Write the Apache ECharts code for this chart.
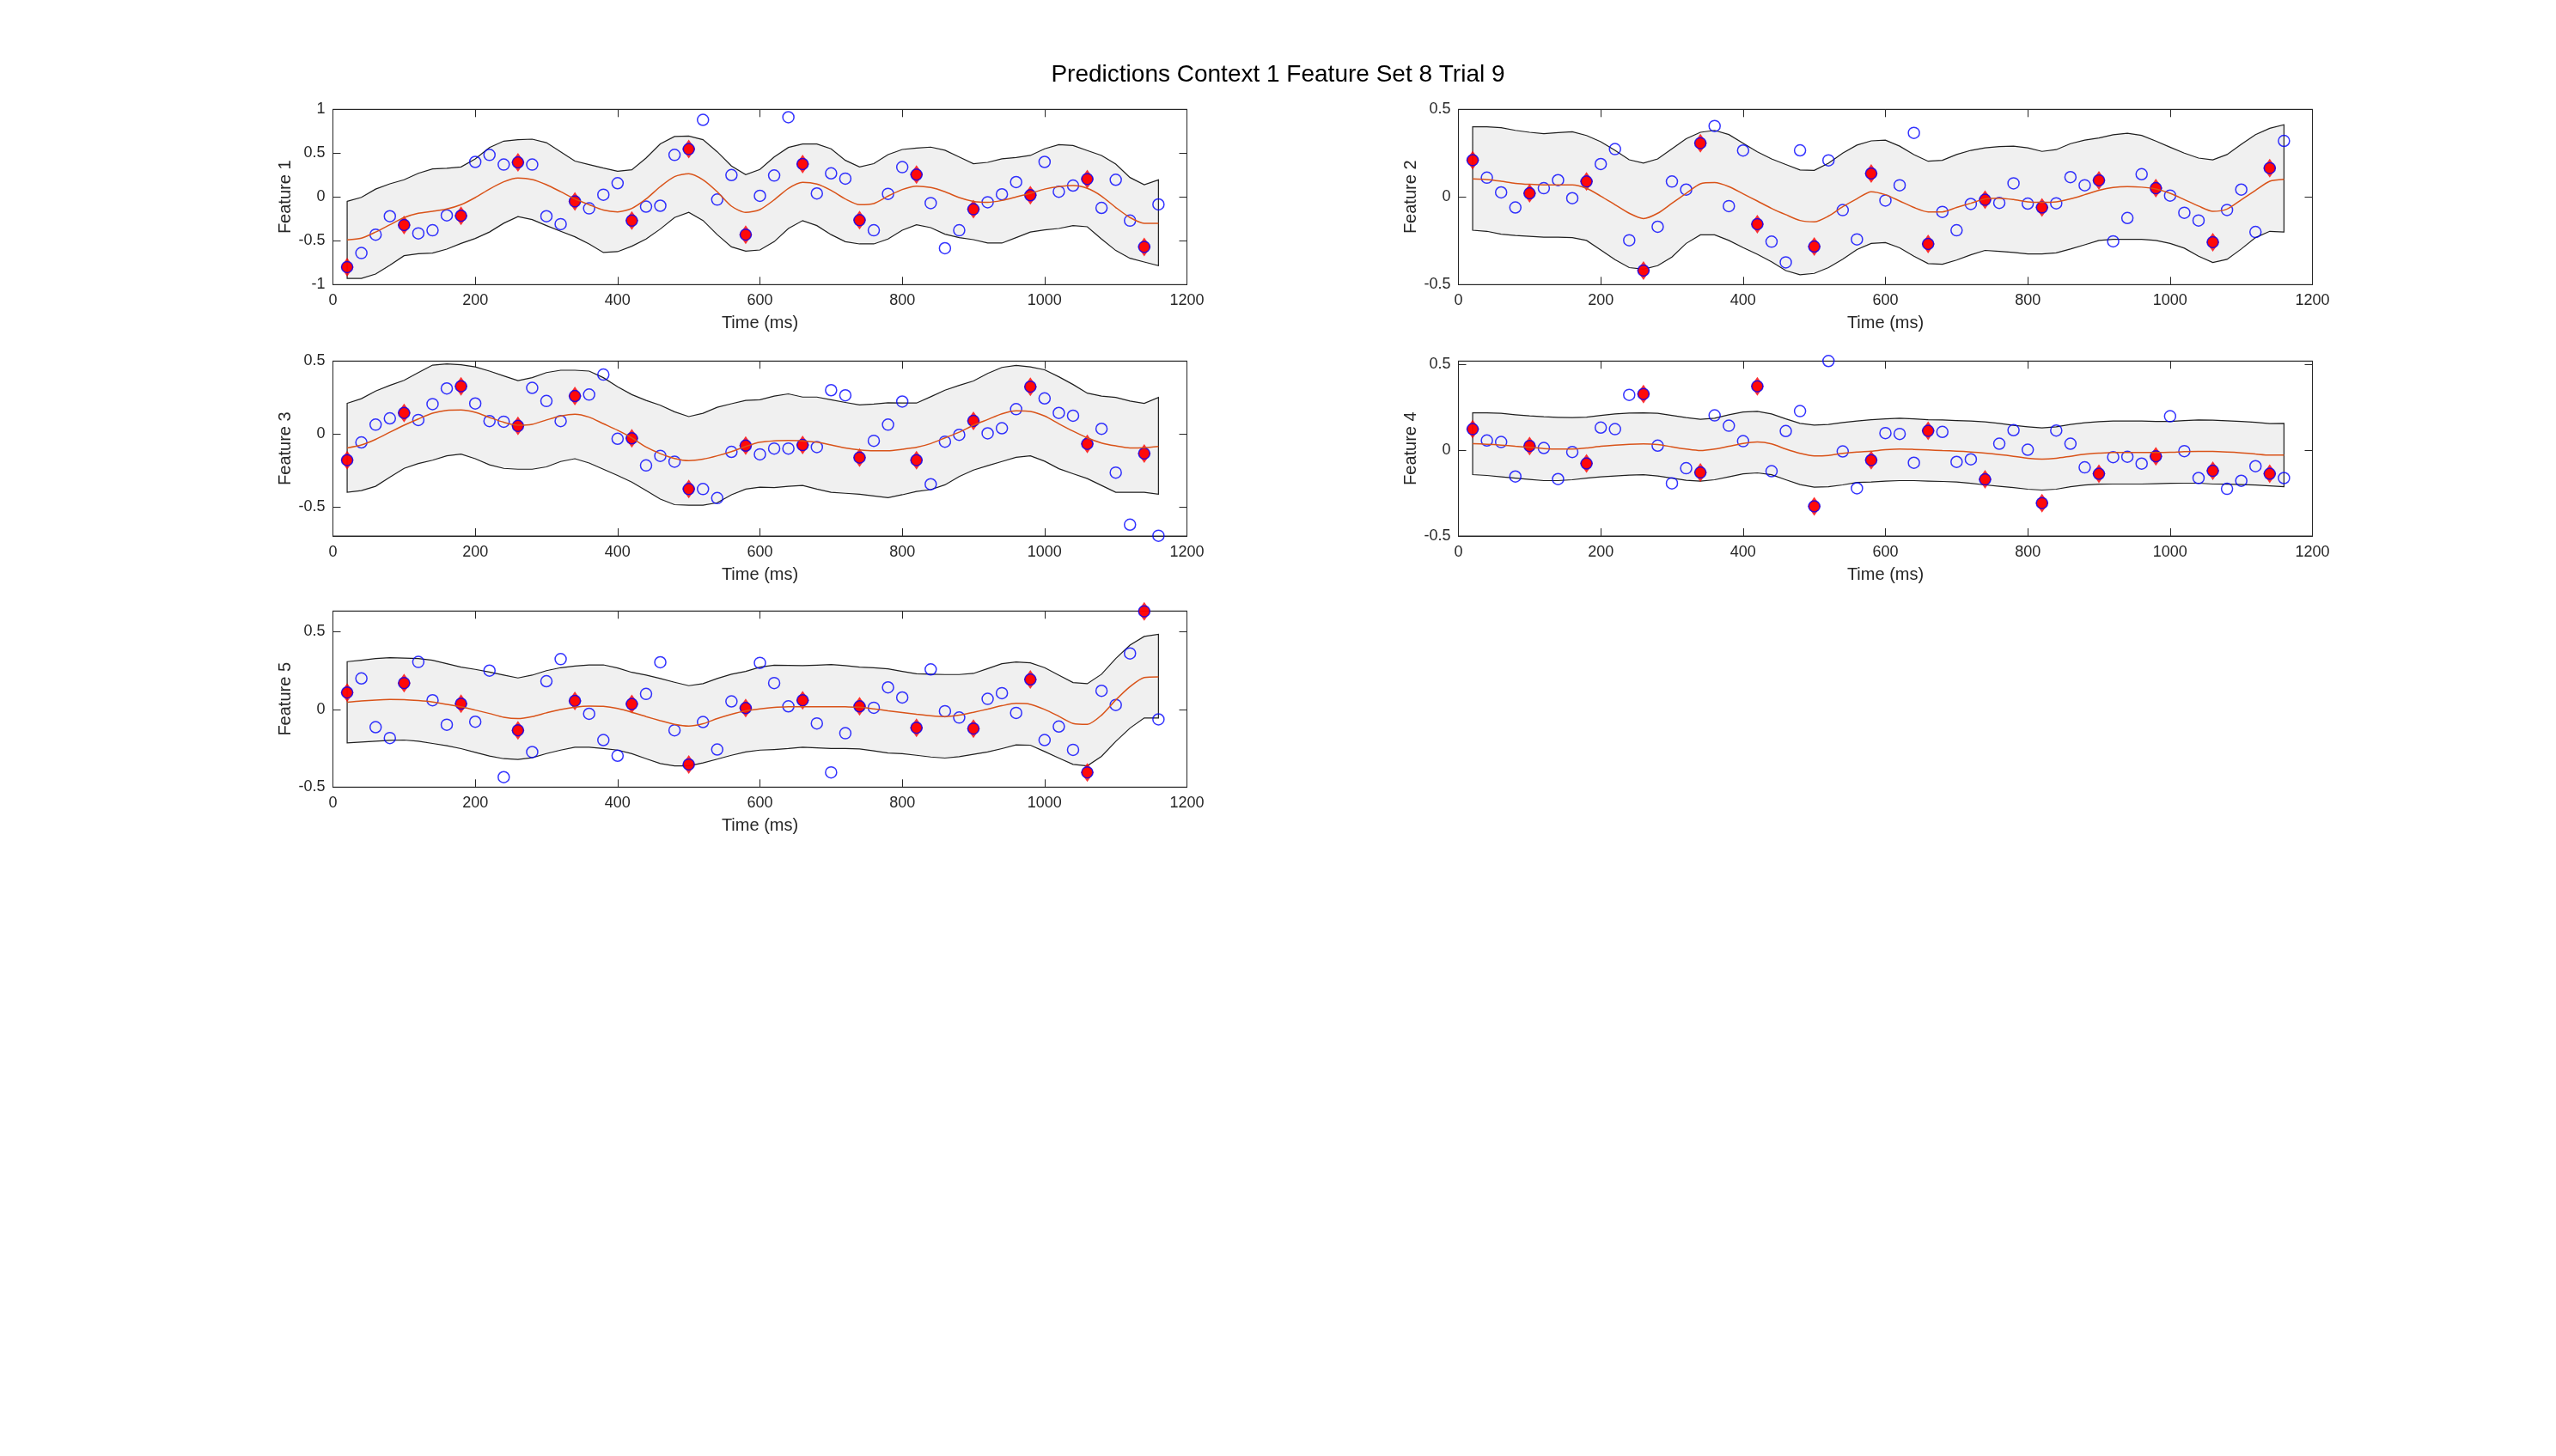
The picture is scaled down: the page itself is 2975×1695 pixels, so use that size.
<!DOCTYPE html>
<html>
<head>
<meta charset="utf-8">
<title>Predictions Context 1 Feature Set 8 Trial 9</title>
<script src="https://cdn.jsdelivr.net/npm/echarts@6.0.0/dist/echarts.min.js"></script>
<style>
  html, body { margin: 0; padding: 0; background: #fff; }
  #main { width: 2975px; height: 1695px; }
</style>
</head>
<body>
<div id="main"></div>
<script>
// sample times (ms) for observations and the prediction band
var timeMs = [20,40,60,80,100,120,140,160,180,200,220,240,260,280,300,320,340,360,380,400,
  420,440,460,480,500,520,540,560,580,600,620,640,660,680,700,720,740,760,780,800,
  820,840,860,880,900,920,940,960,980,1000,1020,1040,1060,1080,1100,1120,1140,1160];
// times of the highlighted (diamond) points
var targetMs = [20,100,180,260,340,420,500,580,660,740,820,900,980,1060,1140];

// ---- Feature 1 ----
var f1Obs = [-0.80,-0.64,-0.43,-0.22,-0.32,-0.415,-0.38,-0.21,-0.215,0.40,0.48,0.37,0.395,0.37,-0.22,-0.31,-0.05,-0.13,0.026,0.157,-0.27,-0.11,-0.10,0.48,0.546,0.88,-0.03,0.25,-0.43,
  0.013,0.245,0.91,0.376,0.04,0.27,0.21,-0.265,-0.38,0.036,0.34,0.255,-0.07,-0.585,-0.38,-0.14,-0.06,0.03,0.17,0.02,0.40,0.06,0.13,0.205,-0.125,0.196,-0.27,-0.57,-0.085];
var f1Target = [-0.80,-0.32,-0.215,0.395,-0.05,-0.27,0.546,-0.43,0.376,-0.265,0.255,-0.14,0.02,0.205,-0.57];
var f1Upper = [-0.05,-0.005,0.09,0.15,0.196,0.27,0.32,0.327,0.343,0.435,0.565,0.637,0.654,0.66,0.62,0.516,0.41,0.37,0.33,0.294,0.31,0.444,0.605,0.69,0.696,0.654,0.516,0.353,0.255,
  0.314,0.457,0.565,0.605,0.605,0.55,0.418,0.343,0.38,0.484,0.542,0.559,0.569,0.533,0.457,0.38,0.395,0.435,0.45,0.474,0.55,0.598,0.588,0.53,0.474,0.376,0.222,0.14,0.196];
var f1Lower = [-0.93,-0.93,-0.88,-0.78,-0.67,-0.647,-0.64,-0.595,-0.53,-0.474,-0.40,-0.30,-0.225,-0.258,-0.327,-0.392,-0.454,-0.536,-0.634,-0.624,-0.562,-0.48,-0.366,-0.235,-0.176,-0.268,-0.43,-0.57,-0.618,
  -0.605,-0.51,-0.36,-0.27,-0.327,-0.43,-0.51,-0.536,-0.536,-0.48,-0.38,-0.317,-0.35,-0.425,-0.464,-0.487,-0.526,-0.526,-0.464,-0.40,-0.376,-0.36,-0.327,-0.34,-0.48,-0.611,-0.70,-0.742,-0.784];
var f1Mean = [-0.49,-0.47,-0.40,-0.317,-0.235,-0.186,-0.163,-0.137,-0.088,-0.007,0.09,0.173,0.216,0.2,0.14,0.06,-0.023,-0.088,-0.15,-0.17,-0.13,-0.023,0.118,0.232,0.265,0.196,0.06,-0.105,-0.176,
  -0.144,-0.033,0.098,0.167,0.147,0.075,-0.023,-0.088,-0.075,0.01,0.085,0.124,0.108,0.06,-0.007,-0.05,-0.06,-0.04,0,0.042,0.09,0.118,0.13,0.098,0.01,-0.12,-0.235,-0.30,-0.30];

// ---- Feature 2 ----
var f2Obs = [0.21,0.11,0.026,-0.06,0.021,0.05,0.096,-0.007,0.088,0.188,0.273,-0.247,-0.42,-0.17,0.088,0.042,0.307,0.405,-0.052,0.265,-0.155,-0.255,-0.373,0.266,-0.283,0.209,-0.075,-0.242,0.134,
  -0.02,0.067,0.366,-0.268,-0.085,-0.19,-0.04,-0.016,-0.034,0.078,-0.038,-0.06,-0.036,0.113,0.067,0.095,-0.253,-0.12,0.13,0.05,0.008,-0.09,-0.134,-0.258,-0.074,0.042,-0.2,0.165,0.32];
var f2Target = [0.21,0.021,0.088,-0.42,0.307,-0.155,-0.283,0.134,-0.268,-0.016,-0.06,0.095,0.05,-0.258,0.165];
var f2Upper = [0.40,0.40,0.395,0.38,0.369,0.361,0.367,0.372,0.351,0.315,0.266,0.212,0.193,0.217,0.275,0.332,0.369,0.38,0.356,0.307,0.258,0.217,0.185,0.154,0.152,0.193,0.25,0.296,0.32,
  0.324,0.29,0.242,0.204,0.209,0.242,0.266,0.28,0.288,0.29,0.28,0.26,0.27,0.304,0.324,0.337,0.355,0.364,0.351,0.319,0.284,0.25,0.222,0.212,0.242,0.30,0.356,0.392,0.412];
var f2Lower = [-0.19,-0.196,-0.212,-0.22,-0.225,-0.23,-0.23,-0.232,-0.248,-0.302,-0.358,-0.403,-0.412,-0.392,-0.343,-0.265,-0.216,-0.216,-0.248,-0.289,-0.327,-0.37,-0.42,-0.444,-0.436,-0.403,-0.355,-0.30,-0.265,
  -0.26,-0.29,-0.338,-0.38,-0.384,-0.36,-0.33,-0.305,-0.31,-0.317,-0.325,-0.325,-0.319,-0.297,-0.273,-0.248,-0.242,-0.242,-0.242,-0.248,-0.265,-0.292,-0.338,-0.374,-0.356,-0.297,-0.232,-0.196,-0.2];
var f2Mean = [0.103,0.1,0.09,0.078,0.072,0.069,0.069,0.069,0.049,0.005,-0.044,-0.093,-0.123,-0.093,-0.036,0.021,0.075,0.082,0.059,0.018,-0.023,-0.065,-0.101,-0.134,-0.142,-0.109,-0.056,-0.01,0.03,
  0.013,-0.023,-0.06,-0.085,-0.085,-0.06,-0.036,-0.011,-0.007,-0.015,-0.028,-0.031,-0.028,-0.011,0.013,0.038,0.054,0.059,0.056,0.046,0.021,-0.015,-0.052,-0.082,-0.069,-0.016,0.038,0.09,0.101];

// ---- Feature 3 ----
var f3Obs = [-0.18,-0.058,0.064,0.107,0.144,0.096,0.205,0.312,0.327,0.209,0.088,0.084,0.055,0.316,0.226,0.088,0.26,0.27,0.407,-0.033,-0.03,-0.216,-0.15,-0.19,-0.378,-0.378,-0.44,-0.123,-0.08,
  -0.14,-0.10,-0.10,-0.076,-0.09,0.30,0.265,-0.162,-0.047,0.064,0.222,-0.18,-0.345,-0.053,-0.006,0.09,0.004,0.039,0.17,0.324,0.244,0.144,0.125,-0.068,0.035,-0.265,-0.622,-0.134,-0.698];
var f3Target = [-0.18,0.144,0.327,0.055,0.26,-0.03,-0.378,-0.08,-0.076,-0.162,-0.18,0.09,0.324,-0.068,-0.134];
var f3Upper = [0.21,0.242,0.294,0.333,0.368,0.421,0.472,0.48,0.474,0.46,0.431,0.398,0.366,0.386,0.421,0.437,0.437,0.431,0.386,0.324,0.27,0.23,0.197,0.152,0.119,0.142,0.183,0.207,0.23,
  0.234,0.259,0.275,0.253,0.253,0.234,0.216,0.199,0.205,0.214,0.212,0.212,0.255,0.30,0.333,0.363,0.415,0.456,0.47,0.46,0.44,0.392,0.339,0.28,0.259,0.251,0.226,0.21,0.25];
var f3Lower = [-0.40,-0.388,-0.359,-0.296,-0.236,-0.203,-0.18,-0.15,-0.138,-0.17,-0.212,-0.236,-0.242,-0.242,-0.226,-0.189,-0.17,-0.199,-0.242,-0.285,-0.33,-0.388,-0.447,-0.485,-0.489,-0.489,-0.472,-0.417,-0.378,
  -0.365,-0.368,-0.359,-0.353,-0.378,-0.40,-0.407,-0.413,-0.425,-0.437,-0.417,-0.394,-0.382,-0.349,-0.292,-0.248,-0.218,-0.189,-0.16,-0.15,-0.187,-0.238,-0.273,-0.306,-0.353,-0.40,-0.40,-0.40,-0.413];
var f3Mean = [-0.096,-0.076,-0.037,0.012,0.06,0.103,0.142,0.162,0.164,0.148,0.113,0.08,0.06,0.066,0.096,0.123,0.135,0.115,0.07,0.025,-0.027,-0.09,-0.135,-0.168,-0.183,-0.173,-0.15,-0.121,-0.086,
  -0.057,-0.047,-0.045,-0.047,-0.057,-0.076,-0.096,-0.109,-0.115,-0.115,-0.105,-0.092,-0.066,-0.027,0.012,0.06,0.099,0.138,0.158,0.154,0.123,0.07,0.019,-0.027,-0.062,-0.082,-0.096,-0.094,-0.086];

// ---- Feature 4 ----
var f4Obs = [0.123,0.057,0.048,-0.153,0.025,0.013,-0.168,-0.01,-0.077,0.132,0.123,0.323,0.328,0.027,-0.193,-0.105,-0.13,0.203,0.143,0.053,0.373,-0.122,0.112,0.228,-0.327,0.52,-0.007,-0.222,-0.058,
  0.10,0.095,-0.073,0.113,0.107,-0.068,-0.053,-0.17,0.038,0.117,0.003,-0.308,0.115,0.038,-0.10,-0.137,-0.04,-0.038,-0.078,-0.035,0.198,-0.005,-0.162,-0.12,-0.225,-0.178,-0.093,-0.137,-0.162];
var f4Target = [0.123,0.025,-0.077,0.328,-0.13,0.373,-0.327,-0.058,0.113,-0.17,-0.308,-0.137,-0.035,-0.12,-0.137];
var f4Upper = [0.218,0.218,0.215,0.207,0.2,0.195,0.192,0.19,0.193,0.203,0.212,0.217,0.218,0.215,0.203,0.19,0.18,0.187,0.207,0.223,0.227,0.212,0.183,0.157,0.147,0.15,0.162,0.17,0.178,
  0.183,0.187,0.183,0.178,0.177,0.173,0.17,0.165,0.157,0.145,0.137,0.13,0.137,0.15,0.16,0.167,0.17,0.17,0.17,0.168,0.168,0.173,0.177,0.175,0.172,0.168,0.163,0.155,0.157];
var f4Lower = [-0.142,-0.147,-0.155,-0.163,-0.17,-0.177,-0.177,-0.172,-0.163,-0.155,-0.15,-0.145,-0.143,-0.15,-0.163,-0.175,-0.18,-0.172,-0.155,-0.138,-0.132,-0.143,-0.172,-0.2,-0.215,-0.213,-0.202,-0.188,-0.185,
  -0.18,-0.177,-0.177,-0.18,-0.182,-0.185,-0.193,-0.202,-0.21,-0.218,-0.227,-0.232,-0.227,-0.213,-0.203,-0.198,-0.197,-0.197,-0.197,-0.195,-0.193,-0.192,-0.192,-0.197,-0.198,-0.2,-0.203,-0.208,-0.213];
var f4Mean = [0.038,0.035,0.03,0.023,0.017,0.01,0.007,0.007,0.013,0.023,0.03,0.035,0.037,0.033,0.02,0.007,-0.002,0.007,0.023,0.04,0.048,0.037,0.007,-0.018,-0.033,-0.03,-0.018,-0.01,-0.005,
  0.003,0.007,0.005,0.002,-0.002,-0.005,-0.01,-0.017,-0.025,-0.035,-0.047,-0.052,-0.047,-0.035,-0.023,-0.017,-0.013,-0.013,-0.013,-0.013,-0.012,-0.008,-0.007,-0.007,-0.01,-0.015,-0.022,-0.028,-0.028];

// ---- Feature 5 ----
var f5Obs = [0.109,0.20,-0.114,-0.184,0.17,0.306,0.059,-0.098,0.037,-0.079,0.25,-0.436,-0.134,-0.274,0.182,0.324,0.055,-0.028,-0.197,-0.298,0.035,0.10,0.304,-0.134,-0.354,-0.081,-0.258,0.052,0.009,
  0.30,0.17,0.02,0.059,-0.09,-0.405,-0.153,0.02,0.011,0.142,0.077,-0.118,0.258,-0.011,-0.052,-0.123,0.068,0.105,-0.022,0.193,-0.197,-0.11,-0.26,-0.405,0.12,0.029,0.361,0.632,-0.064];
var f5Target = [0.109,0.17,0.037,-0.134,0.055,0.035,-0.354,0.009,0.059,0.02,-0.118,-0.123,0.193,-0.405,0.632];
var f5Upper = [0.308,0.317,0.328,0.333,0.331,0.328,0.317,0.295,0.273,0.258,0.241,0.221,0.203,0.221,0.25,0.269,0.28,0.287,0.287,0.267,0.239,0.221,0.199,0.175,0.153,0.166,0.199,0.227,0.245,
  0.273,0.285,0.284,0.282,0.285,0.289,0.282,0.273,0.269,0.262,0.245,0.23,0.227,0.225,0.225,0.232,0.263,0.295,0.306,0.30,0.269,0.221,0.173,0.166,0.227,0.328,0.414,0.47,0.484];
var f5Lower = [-0.215,-0.21,-0.204,-0.199,-0.197,-0.204,-0.219,-0.234,-0.252,-0.276,-0.30,-0.317,-0.322,-0.311,-0.284,-0.262,-0.243,-0.243,-0.252,-0.262,-0.285,-0.317,-0.348,-0.363,-0.363,-0.344,-0.32,-0.295,-0.274,
  -0.262,-0.258,-0.252,-0.243,-0.247,-0.252,-0.252,-0.254,-0.267,-0.28,-0.285,-0.295,-0.306,-0.313,-0.304,-0.289,-0.274,-0.252,-0.228,-0.23,-0.271,-0.313,-0.354,-0.363,-0.302,-0.206,-0.12,-0.055,-0.055];
var f5Mean = [0.046,0.055,0.061,0.064,0.063,0.057,0.048,0.033,0.018,-0.004,-0.026,-0.05,-0.059,-0.046,-0.022,0,0.015,0.022,0.02,0.006,-0.018,-0.046,-0.072,-0.096,-0.107,-0.092,-0.059,-0.031,-0.009,
  0.004,0.013,0.017,0.018,0.018,0.018,0.017,0.015,0.004,-0.009,-0.02,-0.031,-0.041,-0.046,-0.037,-0.018,0.002,0.024,0.039,0.033,0,-0.044,-0.09,-0.096,-0.037,0.061,0.147,0.206,0.21];

var FONT = '"Liberation Sans", Arial, Helvetica, sans-serif';
var AXIS = '#262626';
var PLOT_W = 994;

// subplot layout (pixels) and y limits
var panels = [
  {name: 'Feature 1', obs: f1Obs, target: f1Target, upper: f1Upper, lower: f1Lower, mean: f1Mean,
   ymin: -1, ymax: 1, yticks: [-1, -0.5, 0, 0.5, 1], left: 387.5, top: 127.3, height: 204},
  {name: 'Feature 2', obs: f2Obs, target: f2Target, upper: f2Upper, lower: f2Lower, mean: f2Mean,
   ymin: -0.5, ymax: 0.5, yticks: [-0.5, 0, 0.5], left: 1697.5, top: 127.3, height: 204},
  {name: 'Feature 3', obs: f3Obs, target: f3Target, upper: f3Upper, lower: f3Lower, mean: f3Mean,
   ymin: -0.7, ymax: 0.5, yticks: [-0.5, 0, 0.5], left: 387.5, top: 420.3, height: 203.7},
  {name: 'Feature 4', obs: f4Obs, target: f4Target, upper: f4Upper, lower: f4Lower, mean: f4Mean,
   ymin: -0.5, ymax: 0.52, yticks: [-0.5, 0, 0.5], left: 1697.5, top: 420.3, height: 203.7},
  {name: 'Feature 5', obs: f5Obs, target: f5Target, upper: f5Upper, lower: f5Lower, mean: f5Mean,
   ymin: -0.5, ymax: 0.634, yticks: [-0.5, 0, 0.5], left: 387.5, top: 711.3, height: 205}
];

function pairs(xs, ys) {
  return xs.map(function (x, k) { return [x, ys[k]]; });
}

// band polygon: upper edge left->right, lower edge right->left
function bandRenderer(p) {
  return function (params, api) {
    if (params.dataIndexInside !== 0) return null;
    var pts = [];
    for (var k = 0; k < timeMs.length; k++) pts.push(api.coord([timeMs[k], p.upper[k]]));
    for (var k2 = timeMs.length - 1; k2 >= 0; k2--) pts.push(api.coord([timeMs[k2], p.lower[k2]]));
    return {
      type: 'polygon',
      shape: {points: pts},
      style: {fill: '#f0f0f0', stroke: '#1e1e1e', lineWidth: 1.2}
    };
  };
}

var grid = [], xAxis = [], yAxis = [], series = [];

panels.forEach(function (p, i) {
  grid.push({left: p.left, top: p.top, width: PLOT_W, height: p.height,
    show: true, borderColor: AXIS, borderWidth: 1, backgroundColor: '#fff'});

  var tickStyle = {inside: true, length: 9, lineStyle: {color: AXIS, width: 1}};
  // bottom + top x axes
  xAxis.push({
    gridIndex: i, type: 'value', min: 0, max: 1200, interval: 200, position: 'bottom',
    axisLine: {show: true, onZero: false, lineStyle: {color: AXIS}},
    axisTick: tickStyle,
    axisLabel: {color: AXIS, fontSize: 18, fontFamily: FONT, margin: 10,
      formatter: function (v) { return String(v); }},
    splitLine: {show: false},
    name: 'Time (ms)', nameLocation: 'middle', nameGap: 35,
    nameTextStyle: {color: AXIS, fontSize: 20, fontFamily: FONT}
  });
  xAxis.push({
    gridIndex: i, type: 'value', min: 0, max: 1200, interval: 200, position: 'top',
    axisLine: {show: true, onZero: false, lineStyle: {color: AXIS}},
    axisTick: tickStyle, axisLabel: {show: false}, splitLine: {show: false}
  });
  // left + right y axes
  yAxis.push({
    gridIndex: i, type: 'value', min: p.ymin, max: p.ymax, position: 'left',
    axisLine: {show: true, onZero: false, lineStyle: {color: AXIS}},
    axisTick: {inside: true, length: 9, lineStyle: {color: AXIS}, customValues: p.yticks},
    axisLabel: {color: AXIS, fontSize: 18, fontFamily: FONT, margin: 9, customValues: p.yticks},
    splitLine: {show: false},
    name: p.name, nameLocation: 'middle', nameGap: 45,
    nameTextStyle: {color: AXIS, fontSize: 20, fontFamily: FONT}
  });
  yAxis.push({
    gridIndex: i, type: 'value', min: p.ymin, max: p.ymax, position: 'right',
    axisLine: {show: true, onZero: false, lineStyle: {color: AXIS}},
    axisTick: {inside: true, length: 9, lineStyle: {color: AXIS}, customValues: p.yticks},
    axisLabel: {show: false}, splitLine: {show: false}
  });

  var xi = 2 * i, yi = 2 * i;
  series.push({
    type: 'custom', xAxisIndex: xi, yAxisIndex: yi, silent: true,
    data: timeMs.map(function (t, k) { return [t, p.upper[k], p.lower[k]]; }),
    encode: {x: 0, y: [1, 2]},
    renderItem: bandRenderer(p)
  });
  series.push({
    type: 'line', xAxisIndex: xi, yAxisIndex: yi, silent: true,
    data: pairs(timeMs, p.mean), showSymbol: false, smooth: 0.25,
    lineStyle: {color: '#D95319', width: 1.5}
  });
  series.push({
    type: 'scatter', xAxisIndex: xi, yAxisIndex: yi, silent: true,
    data: pairs(targetMs, p.target), symbol: 'diamond', symbolSize: [15, 22],
    itemStyle: {color: '#ff0000'}
  });
  series.push({
    type: 'scatter', xAxisIndex: xi, yAxisIndex: yi, silent: true,
    data: pairs(targetMs, p.target), symbol: 'circle', symbolSize: 13,
    itemStyle: {color: '#ff0000'}
  });
  series.push({
    type: 'scatter', xAxisIndex: xi, yAxisIndex: yi, silent: true,
    data: pairs(timeMs, p.obs), symbol: 'circle', symbolSize: 13,
    itemStyle: {color: 'rgba(0,0,0,0)', borderColor: '#0000ff', borderWidth: 1.5}
  });
});

var chart = echarts.init(document.getElementById('main'));
chart.setOption({
  animation: false,
  backgroundColor: '#fff',
  title: {
    text: 'Predictions Context 1 Feature Set 8 Trial 9',
    left: 'center', top: 68,
    textStyle: {color: '#000', fontSize: 28, fontWeight: 'normal', fontFamily: FONT}
  },
  grid: grid,
  xAxis: xAxis,
  yAxis: yAxis,
  series: series
});
</script>
</body>
</html>
